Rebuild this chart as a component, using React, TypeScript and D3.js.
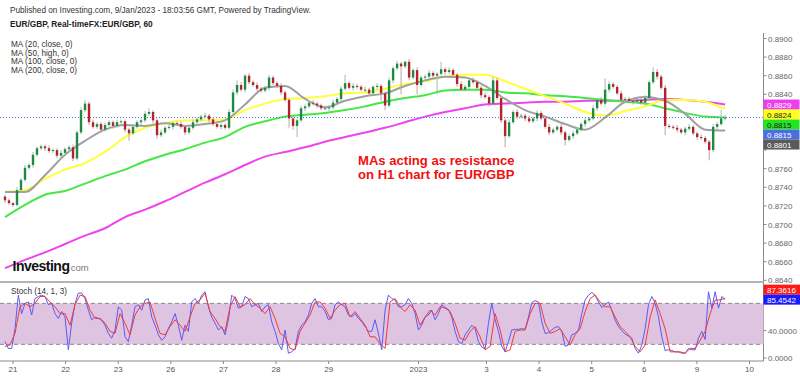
import React from 'react';
import * as d3 from 'd3';

// ---------- DATA ----------
const firstOpen = 8730;
const closes = [
  8726,8723,8721,8737,8748,8761,8764,8775,8782,8784,
  8782,8779,8780,8774,8777,8781,8783,8771,8799,8823,
  8830,8810,8805,8808,8802,8807,8810,8806,8810,8811,
  8802,8798,8805,8810,8812,8819,8821,8812,8796,8799,
  8804,8805,8809,8808,8805,8799,8804,8810,8813,8816,
  8817,8813,8808,8805,8807,8804,8821,8842,8850,8845,
  8860,8853,8850,8846,8844,8847,8858,8852,8849,8842,
  8834,8814,8806,8812,8825,8827,8831,8830,8828,8825,
  8825,8826,8831,8835,8846,8852,8847,8849,8848,8845,
  8845,8841,8848,8849,8841,8828,8855,8868,8873,8870,
  8875,8858,8866,8850,8858,8859,8863,8860,8862,8867,
  8864,8866,8861,8851,8845,8848,8855,8853,8847,8839,
  8837,8830,8855,8836,8812,8795,8810,8821,8816,8817,
  8814,8811,8814,8820,8814,8805,8799,8802,8805,8799,
  8791,8795,8798,8802,8808,8812,8814,8825,8834,8830,
  8845,8851,8848,8841,8834,8835,8833,8832,8834,8831,
  8836,8853,8864,8859,8847,8806,8805,8804,8802,8799,
  8803,8805,8798,8794,8793,8789,8780,8805,8808,8814,
  8815,
];
const wickUp = [
  2,2,1,3,2,3,2,3,2,2, 2,3,2,2,3,2,2,3,2,3, 4,2,3,2,2,3,2,2,3,2,
  2,2,3,2,2,3,4,2,2,3, 2,3,2,2,3,2,2,3,2,2, 3,2,2,3,2,2,3,3,5,3,
  2,3,2,3,2,2,3,2,2,3, 2,2,3,2,3,2,2,3,2,2, 3,2,3,2,3,9,2,3,2,2,
  3,2,2,3,2,2,3,2,3,2, 1,3,2,3,2,2,3,2,2,8, 2,3,2,2,3,2,2,3,2,2,
  3,2,4,3,2,2,3,2,3,2, 2,3,2,3,2,2,3,2,2,3, 2,2,3,2,2,3,2,3,2,3,
  12,3,2,2,3,2,2,3,2,2, 3,2,5,3,2,3,2,2,3,2, 2,3,2,2,3,2,2,3,2,9,
  3,
];
const wickDn = [
  3,2,2,2,3,2,2,3,2,2, 3,2,2,3,2,2,3,3,2,2, 2,3,2,2,3,2,2,3,2,2,
  3,8,2,2,3,2,2,3,4,2, 2,2,3,2,2,3,2,2,3,2, 2,3,2,2,3,2,2,2,3,2,
  3,2,2,3,2,2,3,2,2,3, 2,10,4,12,2,3,2,2,3,2, 2,3,2,2,3,2,2,3,2,2,
  3,2,2,3,8,5,2,3,2,30, 2,3,2,10,2,3,2,2,20,2, 3,2,2,3,2,2,3,2,2,3,
  2,3,2,2,3,12,2,2,3,2, 3,2,2,3,2,2,3,2,2,3, 6,2,3,2,2,3,2,2,3,2,
  2,3,2,2,3,2,2,3,2,2, 3,2,2,3,2,10,2,2,3,2, 3,2,2,3,2,2,11,2,3,2,
  2,
];
const ma20 = [8735,8735,8753,8775,8790,8802,8807,8806,8809,8806,8808,8812,8829,8847,8849,8835,8826,8833,8838,8841,8849,8855,8859,8858,8849,8835,8823,8816,8808,8802,8815,8832,8837,8833,8819,8802,8801];
const ma50 = [8735,8737,8749,8759,8766,8778,8794,8804,8809,8812,8812,8813,8823,8830,8835,8836,8838,8841,8842,8846,8851,8854,8859,8861,8861,8854,8846,8838,8830,8821,8817,8822,8827,8834,8834,8832,8824];
const ma100 = [8708,8721,8732,8736,8744,8752,8759,8768,8775,8781,8788,8794,8805,8811,8816,8818,8820,8823,8827,8832,8836,8839,8844,8845,8845,8842,8841,8839,8838,8836,8834,8832,8830,8825,8820,8816,8815];
const ma200 = [8653,8662,8670,8679,8688,8696,8708,8716,8725,8735,8745,8754,8764,8773,8778,8783,8789,8794,8799,8804,8810,8816,8821,8825,8829,8830,8831,8832,8832,8833,8833,8833,8834,8835,8834,8832,8829];

const stochK = [
  24,14,14,43,92,65,80,82,63,87, 90,92,90,78,80,65,58,68,60,12,
  51,80,95,95,87,70,56,60,58,55, 48,36,29,41,75,70,31,24,48,75,
  78,70,85,87,60,48,34,26,31,43, 53,65,48,26,48,39,82,87,80,92,
  97,75,60,51,41,46,34,56,92,87, 73,75,90,87,75,78,80,68,75,78,
  53,39,21,12,41,7,9,14,39,48, 53,63,80,87,75,75,68,56,58,78,
  82,78,75,63,60,65,58,53,46,39, 39,56,36,12,70,92,87,85,75,
  75,78,87,80,65,41,48,60,63,70, 56,65,78,74,71,60,39,24,21,34,
  41,48,43,24,16,13,51,80,56,39, 17,9,24,41,42,42,43,42,60,81,
  84,82,53,36,37,41,45,46,39,17, 19,34,36,41,65,85,92,96,92,82,
  74,78,82,70,55,46,40,35,32,29, 14,7,19,43,78,90,80,60,31,11,
  12,11,9,9,7,7,14,12,12,29, 39,27,97,73,97,73,90,85.4542,
];
const stochD = [
  17,19,36,75,80,75,80,90,90,82, 75,65,65,48,78,92,90,70,58,58,
  51,39,36,65,51,34,63,75,80,82, 58,36,34,46,56,48,39,60,80,85,
  95,68,58,46,39,75,90,75,78,87, 78,73,65,75,58,36,31,14,12,39,
  51,63,82,82,73,58,70,78,80,60, 68,58,48,31,31,21,14,82,87,
  75,68,78,70,48,60,70,63,75,73, 68,51,29,26,39,46,31,12,17,65,
  41,9,12,39,41,41,65,80,80,51, 36,39,43,31,19,34,43,68,87,92,
  82,75,75,60,46,39,31,17,9,19, 60,85,65,43,9,9,9,7,14,14,
  26,39,65,85,85,87.3616,
];

const dayLabels = ['21', '22', '23', '26', '27', '28', '29', '2023', '3', '4', '5', '6', '9', '10'];
const dayHours = [0, 24, 48, 72, 96, 120, 144, 185, 216, 240, 264, 288, 312, 336];
const priceTicks = [0.864, 0.866, 0.868, 0.87, 0.872, 0.874, 0.876, 0.878, 0.88, 0.882, 0.884, 0.886, 0.888, 0.89];
const stochTicks = [0, 40, 80];
const maNames = ['MA (20, close, 0)', 'MA (50, high, 0)', 'MA (100, close, 0)', 'MA (200, close, 0)'];

// ---------- CHART ----------
const FONT = "'Liberation Sans', Arial, sans-serif";
const AX = 763.5;

function resolve(items: { y: number }[], dir: 'down' | 'up', gap = 10) {
  const s = [...items].sort((a, b) => (dir === 'down' ? a.y - b.y : b.y - a.y));
  for (let i = 1; i < s.length; i++) {
    if (dir === 'down' && s[i].y < s[i - 1].y + gap) s[i].y = s[i - 1].y + gap;
    if (dir === 'up' && s[i].y > s[i - 1].y - gap) s[i].y = s[i - 1].y - gap;
  }
}

export default function App() {
  const x = d3.scaleLinear().domain([0, 336]).range([13, 749.5]);
  const H0 = -3.65, H1 = 324.9;
  const at = (n: number, i: number) => x(H0 + ((H1 - H0) * i) / (n - 1));
  const y = d3.scaleLinear().domain([0.864, 0.89]).range([280.3, 38.5]);
  const ys = d3.scaleLinear().domain([0, 100]).range([358, 289.7]);
  const P = (v: number) => v / 10000;

  const maLine = (arr: number[]) =>
    d3.line<number>().x((_, i) => at(arr.length, i)).y((d) => y(P(d))).curve(d3.curveMonotoneX)(arr) || '';
  const stLine = (arr: number[]) =>
    d3.line<number>().x((_, i) => at(arr.length, i)).y((d) => ys(d))(arr) || '';

  const last = closes[closes.length - 1];
  const maDefs = [
    { arr: ma200, color: '#ee3cee', text: '#fff' },
    { arr: ma50, color: '#ffff1a', text: '#222' },
    { arr: ma100, color: '#22e622', text: '#222' },
    { arr: [last], color: '#4a6fe0', text: '#fff' },
    { arr: ma20, color: '#5a5a5a', text: '#fff' },
  ];
  const boxes = maDefs.map((m) => {
    const v = m.arr[m.arr.length - 1];
    return { y: y(P(v)), label: P(v).toFixed(4), color: m.color, text: m.text };
  });
  resolve(boxes, 'down');
  const sboxes = [
    { y: ys(stochD[stochD.length - 1]), label: stochD[stochD.length - 1].toFixed(4), color: '#ff1a1a', text: '#fff' },
    { y: ys(stochK[stochK.length - 1]), label: stochK[stochK.length - 1].toFixed(4), color: '#1a1aff', text: '#fff' },
  ];
  resolve(sboxes, 'up');

  // tick labels hidden behind value boxes are not drawn
  const visible = (ty: number, bs: { y: number }[]) => bs.every((b) => Math.abs(b.y - ty) > 7.5);

  const bw = 2.4;

  return (
    <svg width={800} height={376} style={{ position: 'absolute', left: 0, top: 0, background: '#fff' }} fontFamily={FONT}>
      <rect x={0} y={0} width={800} height={376} fill="#fff" />
      {/* header */}
      <text x={10} y={13} fontSize={8.2} fill="#333">Published on Investing.com, 9/Jan/2023 - 18:03:56 GMT, Powered by TradingView.</text>
      <text x={10} y={27} fontSize={8.3} fontWeight="bold" fill="#222">EUR/GBP, Real-timeFX:EUR/GBP, 60</text>
      {maNames.map((t, i) => (
        <text key={t} x={11} y={47 + i * 8.5} fontSize={8.2} fill="#333">{t}</text>
      ))}

      {/* price axis */}
      <line x1={AX} x2={AX} y1={33} y2={361} stroke="#8a8a8a" />
      {priceTicks.map((t) => (
        <g key={t}>
          <line x1={AX} x2={AX + 3} y1={y(t)} y2={y(t)} stroke="#8a8a8a" />
          {visible(y(t), boxes) && (
            <text x={768} y={y(t) + 3} fontSize={8} fill="#666">{t.toFixed(4)}</text>
          )}
        </g>
      ))}

      {/* MA lines */}
      <path d={maLine(ma200)} fill="none" stroke="#ee44ee" strokeWidth={2} />
      <path d={maLine(ma100)} fill="none" stroke="#44e844" strokeWidth={2} />
      <path d={maLine(ma50)} fill="none" stroke="#ffff3a" strokeWidth={2} />
      <path d={maLine(ma20)} fill="none" stroke="#a0a0a0" strokeWidth={2} />

      {/* current price line */}
      <line x1={0} x2={AX} y1={y(P(last))} y2={y(P(last))} stroke="#4a6fe0" strokeDasharray="1,2" />

      {/* candles */}
      {closes.map((c, i) => {
        const o = i === 0 ? firstOpen : closes[i - 1];
        const hi = Math.max(o, c) + wickUp[i];
        const lo = Math.min(o, c) - wickDn[i];
        const cx = at(closes.length, i);
        const top = y(P(Math.max(o, c)));
        const bot = y(P(Math.min(o, c)));
        const up = c >= o;
        return (
          <g key={i}>
            <line x1={cx} x2={cx} y1={y(P(hi))} y2={y(P(lo))} stroke={up ? '#9dbfa6' : '#b9a3a3'} strokeWidth={1} />
            <rect x={cx - bw / 2} y={top} width={bw} height={Math.max(1, bot - top)} fill={up ? '#1f8a43' : '#b3242a'} />
          </g>
        );
      })}

      {/* annotation */}
      <text x={358} y={164.5} fontSize={13.1} fontWeight="bold" fill="#f01010">MAs acting as resistance</text>
      <text x={358} y={179} fontSize={13.1} fontWeight="bold" fill="#f01010">on H1 chart for EUR/GBP</text>

      {/* logo */}
      <text x={12.5} y={270.5} fontSize={14} fontWeight="bold" fill="#111" letterSpacing={-0.5}>Investing</text>
      <text x={68} y={270.5} fontSize={9.5} fill="#777">.com</text>

      {/* MA value boxes */}
      {boxes.map((b, i) => (
        <g key={i}>
          <rect x={AX} y={b.y - 5} width={36} height={10} fill={b.color} />
          <text x={767} y={b.y + 3.2} fontSize={8} fill={b.text}>{b.label}</text>
        </g>
      ))}

      {/* separator */}
      <line x1={0} x2={AX} y1={282} y2={282} stroke="#b4b4b4" strokeWidth={2} />

      {/* stochastic panel */}
      <rect x={0} y={ys(80)} width={AX} height={ys(20) - ys(80)} fill="#dfc4e2" />
      <line x1={0} x2={AX} y1={ys(80)} y2={ys(80)} stroke="#8a8a8a" strokeDasharray="4,3" />
      <line x1={0} x2={AX} y1={ys(20)} y2={ys(20)} stroke="#8a8a8a" strokeDasharray="4,3" />
      <path d={stLine(stochK)} fill="none" stroke="#5a5af5" strokeWidth={1} />
      <path d={stLine(stochD)} fill="none" stroke="#f03a3a" strokeWidth={1} />
      <text x={11} y={294} fontSize={8.2} fill="#333">Stoch (14, 1, 3)</text>
      {stochTicks.map((t) => (
        <g key={t}>
          <line x1={AX} x2={AX + 3} y1={ys(t)} y2={ys(t)} stroke="#8a8a8a" />
          {visible(ys(t), sboxes) && (
            <text x={768} y={ys(t) + 3} fontSize={8} fill="#666">{t.toFixed(4)}</text>
          )}
        </g>
      ))}
      {sboxes.map((b, i) => (
        <g key={i}>
          <rect x={AX} y={b.y - 5} width={37} height={10} fill={b.color} />
          <text x={767} y={b.y + 3.2} fontSize={8} fill={b.text}>{b.label}</text>
        </g>
      ))}

      {/* time axis */}
      <line x1={0} x2={AX} y1={361} y2={361} stroke="#8a8a8a" />
      {dayLabels.map((d, i) => (
        <g key={d}>
          <line x1={x(dayHours[i])} x2={x(dayHours[i])} y1={361} y2={364} stroke="#8a8a8a" />
          <text x={x(dayHours[i])} y={372} fontSize={8} fill="#555" textAnchor="middle">{d}</text>
        </g>
      ))}
    </svg>
  );
}
